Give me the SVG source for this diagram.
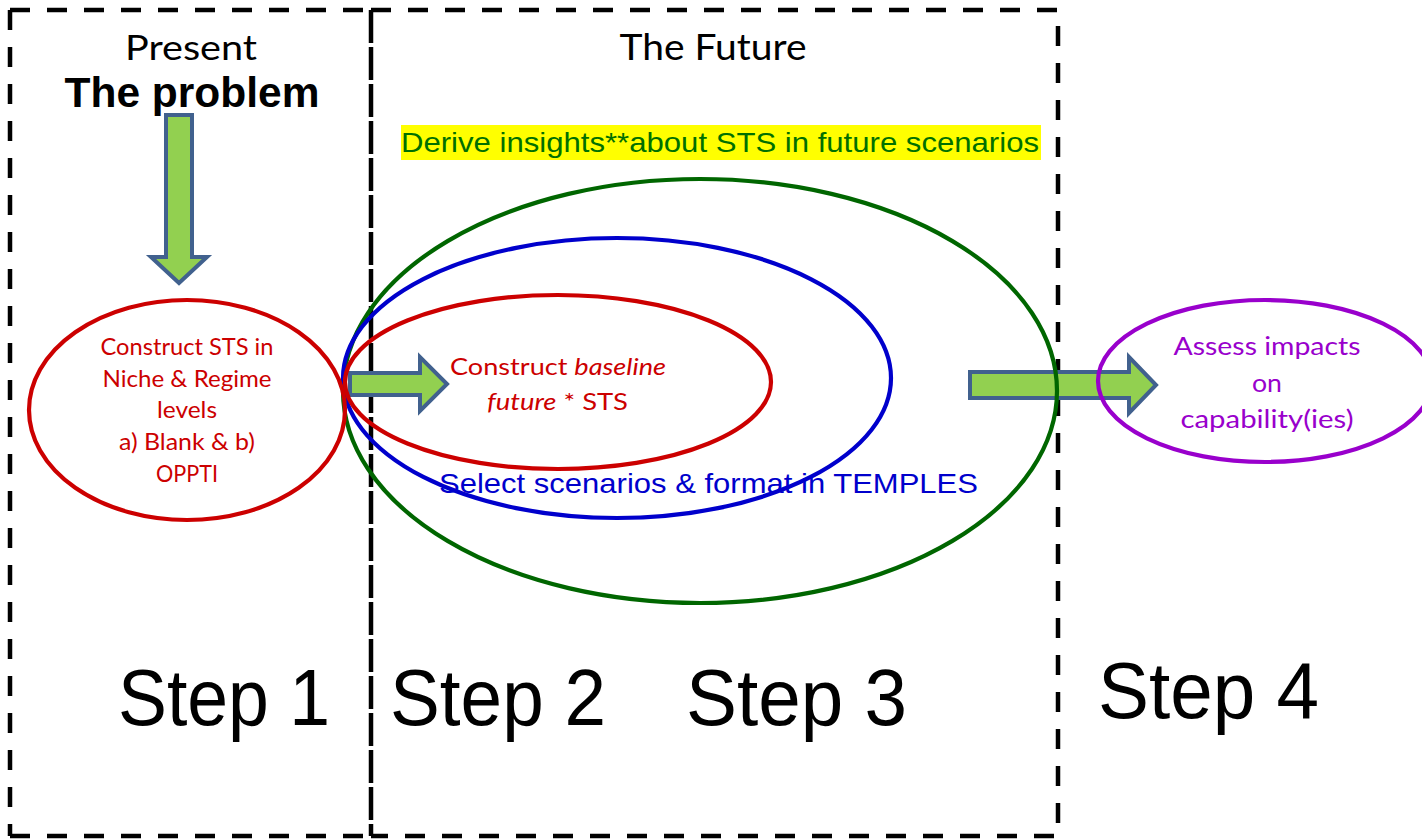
<svg xmlns="http://www.w3.org/2000/svg" width="1422" height="840" viewBox="0 0 1422 840">
<style>
.dash{fill:none;stroke:#000;stroke-width:4.5;stroke-dasharray:20 17}
.div{fill:none;stroke:#000;stroke-width:4.5;stroke-dasharray:33 4}
.arr{fill:#92D050;stroke:#41618E;stroke-width:4;stroke-linejoin:miter}
.ell{fill:none;stroke-width:4.2}
.cal{font-family:Lato,"Open Sans","Noto Sans",sans-serif}
.ari{font-family:"Liberation Sans",Arial,sans-serif}
.step{font-family:"Liberation Sans",Arial,sans-serif;font-size:80px;fill:#000}
</style>
<rect width="1422" height="840" fill="#fff"/>
<g id="frames">
  <path class="dash" d="M10,10 H370 M10,10 V836 M10,836 H370"/>
  <path class="dash" d="M371,10 H1058 V836 H371"/>
  <path class="div" d="M371,10 V836"/>
</g>
<g id="headers">
  <text class="cal" x="191" y="60" font-size="35" text-anchor="middle" textLength="132" lengthAdjust="spacingAndGlyphs">Present</text>
  <text class="ari" x="192" y="107" font-size="42" font-weight="bold" text-anchor="middle" textLength="255" lengthAdjust="spacingAndGlyphs">The problem</text>
  <text class="cal" x="713" y="60" font-size="37" text-anchor="middle" textLength="187" lengthAdjust="spacingAndGlyphs">The Future</text>
</g>
<g id="connectors">
  <path class="arr" d="M166,115 H192 V257 H207 L179,283 L151,257 H166 Z"/>
  <path class="arr" d="M350,373 H420 V357 L447,384 L420,411 V395 H350 Z"/>
  <path class="arr" d="M970,372 H1129 V357 L1156,385 L1129,413 V398 H970 Z"/>
</g>
<g id="insights">
  <rect x="401" y="125" width="640" height="35" fill="#FFFF00"/>
  <text class="ari" x="401" y="152" font-size="28" fill="#007000" textLength="638" lengthAdjust="spacingAndGlyphs">Derive insights**about STS in future scenarios</text>
</g>
<g id="step3-scenarios">
  <ellipse class="ell" cx="700" cy="391" rx="357" ry="212" stroke="#006600"/>
</g>
<g id="step2-templates">
  <ellipse class="ell" cx="617" cy="378" rx="274" ry="140" stroke="#0000CC"/>
  <text class="ari" x="439" y="493" font-size="28" fill="#0000CC" textLength="539" lengthAdjust="spacingAndGlyphs">Select scenarios &amp; format in TEMPLES</text>
</g>
<g id="step2-baseline">
  <ellipse class="ell" cx="558" cy="382" rx="213" ry="87" stroke="#CC0000"/>
  <text class="cal" x="450" y="375" font-size="24" fill="#CC0000" textLength="216" lengthAdjust="spacingAndGlyphs">Construct <tspan font-style="italic">baseline</tspan></text>
  <text class="cal" x="487" y="410" font-size="24" fill="#CC0000" textLength="141" lengthAdjust="spacingAndGlyphs"><tspan font-style="italic">future</tspan> * STS</text>
</g>
<g id="step1-present">
  <ellipse class="ell" cx="187" cy="410" rx="158" ry="110" stroke="#CC0000"/>
  <g class="cal" font-size="24" fill="#CC0000" text-anchor="middle">
    <text x="187" y="355" textLength="173" lengthAdjust="spacingAndGlyphs">Construct STS in</text>
    <text x="187" y="387" textLength="169" lengthAdjust="spacingAndGlyphs">Niche &amp; Regime</text>
    <text x="187" y="418" textLength="60" lengthAdjust="spacingAndGlyphs">levels</text>
    <text x="187" y="450" textLength="136" lengthAdjust="spacingAndGlyphs">a) Blank &amp; b)</text>
    <text x="187" y="482" textLength="62" lengthAdjust="spacingAndGlyphs">OPPTI</text>
  </g>
</g>
<g id="step4-impacts">
  <ellipse class="ell" cx="1265" cy="381" rx="167" ry="81" stroke="#9900CC"/>
  <g class="cal" font-size="25" fill="#9900CC" text-anchor="middle">
    <text x="1267" y="355" textLength="187" lengthAdjust="spacingAndGlyphs">Assess impacts</text>
    <text x="1267" y="392" textLength="30" lengthAdjust="spacingAndGlyphs">on</text>
    <text x="1267" y="428" textLength="173" lengthAdjust="spacingAndGlyphs">capability(ies)</text>
  </g>
</g>
<g id="steps">
  <text class="step" x="118" y="725" textLength="212" lengthAdjust="spacingAndGlyphs">Step 1</text>
  <text class="step" x="390" y="725" textLength="216" lengthAdjust="spacingAndGlyphs">Step 2</text>
  <text class="step" x="686" y="725" textLength="221" lengthAdjust="spacingAndGlyphs">Step 3</text>
  <text class="step" x="1098" y="718" textLength="221" lengthAdjust="spacingAndGlyphs">Step 4</text>
</g>
</svg>
